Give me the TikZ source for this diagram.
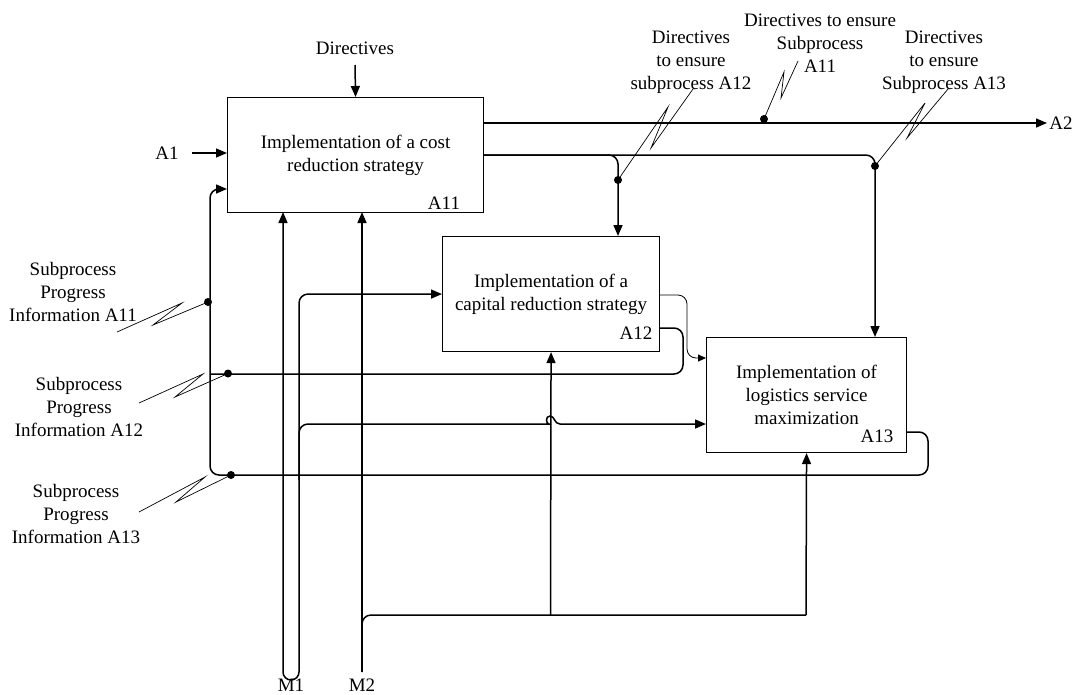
\documentclass[tikz,border=0pt]{standalone}
\usepackage{fontspec}
\setmainfont{Liberation Serif}
\usetikzlibrary{arrows.meta,calc}
\begin{document}
\begin{tikzpicture}[x=1pt,y=-1pt,
  txt/.style={font=\fontsize{19}{23}\selectfont, align=center, inner sep=0pt},
  box/.style={draw, line width=1.1pt, anchor=north west, inner sep=0pt, font=\fontsize{19}{23}\selectfont, align=center},
  flow/.style={line width=1.5pt, rounded corners=9pt},
  arr/.style={flow, -{Triangle[length=11pt,width=9pt]}},
  thinarr/.style={line width=0.8pt, rounded corners=9pt, -{Triangle[length=8pt,width=7pt]}},
  sq/.style={line width=0.7pt},
  dot/.style={circle, fill, inner sep=0pt, minimum size=8pt},
]
\useasboundingbox (0,0) rectangle (1075,694);

% boxes
\node[box, minimum width=256pt, minimum height=115pt] (A11) at (227,97) {Implementation of a cost\\reduction strategy};
\node[box, minimum width=217pt, minimum height=115pt] (A12) at (442,236) {Implementation of a\\capital reduction strategy};
\node[box, minimum width=200pt, minimum height=115pt] (A13) at (706,337) {Implementation of\\logistics service\\maximization};

\node[txt] (lA11) at (444,203) {A11};
\node[txt] (lA12) at (636,333) {A12};
\node[txt] (lA13) at (877,436) {A13};

% texts
\node[txt] (dir) at (355,48) {Directives};
\node[txt] (A1) at (167,153) {A1};
\node[txt] (A2) at (1061,123) {A2};
\node[txt] (dA11) at (820,43) {Directives to ensure\\Subprocess\\A11};
\node[txt] (dA12) at (691,62) {Directives\\to ensure\\subprocess A12};
\node[txt] (dA13) at (944,62) {Directives\\to ensure\\Subprocess A13};
\node[txt] (pA11) at (73,292) {Subprocess\\Progress\\Information A11};
\node[txt] (pA12) at (79,407) {Subprocess\\Progress\\Information A12};
\node[txt] (pA13) at (76,514) {Subprocess\\Progress\\Information A13};
\node[txt] (M1) at (291,685) {M1};
\node[txt] (M2) at (362,685) {M2};

% free ends
\coordinate (dirS) at (355,65);
\coordinate (a1E) at (192,153);
\coordinate (a2T) at (1047,123);
\coordinate (o1) at (483,123);
\coordinate (in11b) at (227,189);
\coordinate (top12) at (618,236);
\coordinate (top13) at (875,337);
\coordinate (out13) at (906,432);
\coordinate (out12a) at (659,295);
\coordinate (out12b) at (659,328);
\coordinate (in13a) at (706,358);
\coordinate (in13b) at (706,424);
\coordinate (m1a) at (283,212);
\coordinate (m2a) at (362,212);
\coordinate (m2S) at (362,672);

% inputs
\draw[arr] (dirS) -- (A11.north);
\draw[arr] (a1E) -- (a1E -| A11.west);

% outputs of A11
\draw[arr] (o1) -- (a2T);
\draw[arr] (A11.east) -| (top13);
\draw[arr] (A11.east) -| (top12);

% A12 -> A13
\draw[thinarr] (out12a) -- (687,295) -- (687,358) -- (in13a);
% A12 feedback
\draw[flow] (out12b) -- (683,328) -- (683,374) -- (210,374);
% A13 feedback to A11
\draw[arr] (out13) -- (928,432) -- (928,475) -- (210,475) -- (210,189) -- (in11b);

% M1
\draw[arr, rounded corners=8pt] (299,440) -- (299,680) -- (283,680) -- (m1a);
\draw[arr] (299,440) |- (A12.west);
\draw[arr] (299,480) -- (299,424) -- (540,424) [sharp corners] .. controls (546,424) and (545,416) .. (550,416) .. controls (555,416) and (554,424) .. (560,424) -- (in13b);

% M2
\draw[arr] (m2S) -- (m2a);
\draw[flow] (m2S) |- (806,615);
\draw[arr] (806,615) -- (A13.south);
\draw[arr] (550.5,615) -- (A12.south);

% dots
\node[dot] (d11) at (764,119) {};
\node[dot] (d12) at (618,180) {};
\node[dot] (d13) at (875,166) {};
\node[dot] (p11) at (208,302) {};
\node[dot] (p12) at (228,373.5) {};
\node[dot] (p13) at (231,475) {};

% squiggles
\draw[sq] (d11.center) -- (784,72) -- (781,98) -- (798,61);
\draw[sq] (d12.center) -- (668,107) -- (651,148) -- (693,89);
\draw[sq] (d13.center) -- (925,103) -- (907,138) -- (948,89);
\draw[sq] (117,332) -- (182,303) -- (153,325) -- (p11.center);
\draw[sq] (139,403) -- (203,374) -- (175,397) -- (p12.center);
\draw[sq] (139,512) -- (205,477) -- (176,502) -- (p13.center);
\end{tikzpicture}
\end{document}
